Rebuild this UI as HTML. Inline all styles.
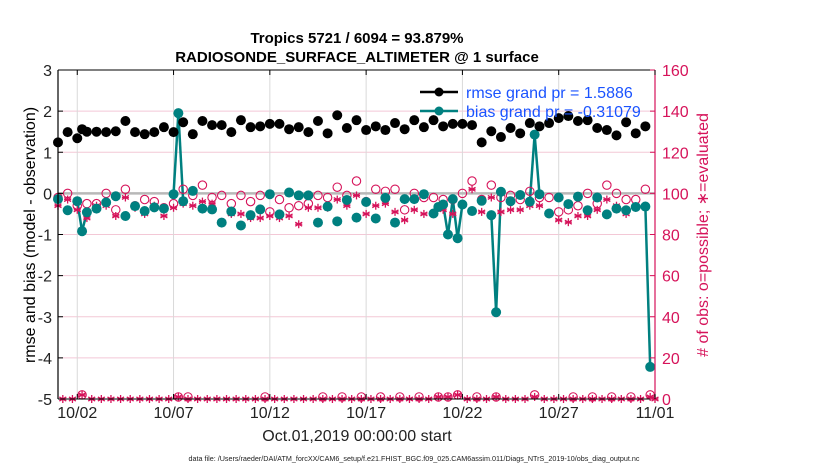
<!DOCTYPE html>
<html><head><meta charset="utf-8"><style>
html,body{margin:0;padding:0;background:#fff;}
svg{display:block;font-family:"Liberation Sans",Arial,sans-serif;}
</style></head><body>
<svg id="chart" width="830" height="470" viewBox="0 0 830 470" xmlns="http://www.w3.org/2000/svg">
<rect width="830" height="470" fill="#fff"/>
<g id="grid"></g><g id="marks"></g><g id="axes"></g>
<text x="357" y="43" text-anchor="middle" font-size="15" font-weight="bold">Tropics 5721 / 6094 = 93.879%</text>
<text x="357" y="62" text-anchor="middle" font-size="15" font-weight="bold">RADIOSONDE_SURFACE_ALTIMETER @ 1 surface</text>
<text transform="translate(35,235) rotate(-90)" text-anchor="middle" font-size="16">rmse and bias (model - observation)</text>
<text transform="translate(708,235) rotate(-90)" text-anchor="middle" font-size="16" fill="#d6135a"># of obs: o=possible; ∗=evaluated</text>
<text x="357" y="441" text-anchor="middle" font-size="16" fill="#222">Oct.01,2019 00:00:00 start</text>
<text x="414" y="461" text-anchor="middle" font-size="7.2" fill="#222">data file: /Users/raeder/DAI/ATM_forcXX/CAM6_setup/f.e21.FHIST_BGC.f09_025.CAM6assim.011/Diags_NTrS_2019-10/obs_diag_output.nc</text>
<g>
<line x1="420" y1="92" x2="458" y2="92" stroke="#000" stroke-width="2.5"/><circle cx="439" cy="92" r="4.5" fill="#000"/>
<text x="466" y="98" font-size="16" fill="#1a53ff">rmse grand pr = 1.5886</text>
<line x1="420" y1="111" x2="458" y2="111" stroke="#008080" stroke-width="2.5"/><circle cx="439" cy="111" r="4.5" fill="#008080"/>
<text x="466" y="117" font-size="16" fill="#1a53ff">bias grand pr = -0.31079</text>
</g>
</svg>
<script>
// 12-hourly values (00Z/12Z), index i -> day i*0.5
const rmse=[1.24,1.49,1.34,1.50,1.50,1.49,1.51,1.76,1.49,1.44,1.49,1.61,1.49,1.73,1.44,1.76,1.66,1.66,1.49,1.78,1.61,1.63,1.69,1.69,1.56,1.61,1.49,1.76,1.46,1.90,1.59,1.78,1.54,1.63,1.54,1.71,1.56,1.78,1.61,1.78,1.63,1.69,1.69,1.66,1.24,1.51,1.37,1.59,1.46,1.71,1.63,1.71,1.83,1.88,1.76,1.78,1.59,1.54,1.41,1.73,1.46,1.63,null];
const bias=[-0.14,-0.41,-0.19,-0.46,-0.37,-0.22,-0.07,-0.55,-0.31,-0.43,-0.34,-0.37,-0.02,-0.19,0.06,-0.37,-0.39,-0.71,-0.44,-0.78,-0.53,-0.39,-0.02,-0.51,0.02,-0.05,-0.05,-0.71,-0.32,-0.68,-0.16,-0.59,-0.21,-0.61,-0.11,-0.71,-0.14,-0.14,-0.02,-0.49,-0.27,-0.14,-0.27,-0.43,-0.18,-0.53,0.04,-0.19,-0.04,-0.2,-0.02,-0.49,-0.1,-0.26,-0.08,-0.41,-0.10,-0.51,-0.37,-0.41,-0.33,-0.32,null];
const possible=[98,100,94,95,95,100,92,102,94,97,96,93,95,102,99,104,98,99,95,99,96,99,91,97,93,94,95,99,98,103,99,106,96,102,101,102,92,100,98,98,97,97,100,106,97,104,98,99,97,101,98,98,91,92,94,100,95,104,100,97,97,102,0];
const evaluated=[94,97,92,88,94,94,89,98,93,90,94,89,93,95,94,96,95,86,90,90,88,88,89,88,89,85,93,93,93,97,94,99,90,94,95,91,87,92,90,90,92,90,95,102,91,98,91,92,92,94,94,90,87,86,89,89,92,97,94,90,93,94,0];
// 06Z/18Z values, index k -> day 0.25+k*0.5
const offPossible=[0,0,2,0,0,0,0,0,0,0,0,0,1,1,0,0,0,0,0,0,0,1,0,0,0,0,0,1,0,1,0,1,0,1,0,1,0,1,0,1,1,2,0,1,0,1,0,0,0,2,0,0,0,1,0,1,0,1,0,1,0,2];
const offEvaluated=[0,0,2,0,0,0,0,0,0,0,0,0,1,0,0,0,0,0,0,0,0,0,0,0,0,0,0,0,0,0,0,0,0,0,0,0,0,0,0,1,1,2,0,0,0,1,0,0,0,1,0,0,0,0,0,0,0,0,0,0,0,1];
const offBias={2:-0.92,12:1.95,39:-0.33,40:-1.0,41:-1.09,45:-2.89,49:1.43,61:-4.22};
const offRmse={2:1.56};
const yTicks=[-5,-4,-3,-2,-1,0,1,2,3];
const y2Ticks=[0,20,40,60,80,100,120,140,160];
const xTickDays=[1,6,11,16,21,26,31];
const xTickLabels=["10/02","10/07","10/12","10/17","10/22","10/27","11/01"];

const NS="http://www.w3.org/2000/svg";
const X0=58,X1=655,Y0=70,Y1=399,D0=0,D1=31,V0=-5,V1=3,C0=0,C1=160;
const CR="#d6135a",TEAL="#008080";
function xs(d){return X0+(d-D0)/(D1-D0)*(X1-X0);}
function ys(v){return Y1-(v-V0)/(V1-V0)*(Y1-Y0);}
function yc(c){return Y1-(c-C0)/(C1-C0)*(Y1-Y0);}
function mk(tag,at,parent){const e=document.createElementNS(NS,tag);for(const k in at)e.setAttribute(k,at[k]);parent.appendChild(e);return e;}
const gridG=document.getElementById('grid'),marksG=document.getElementById('marks'),axesG=document.getElementById('axes');

yTicks.forEach(v=>{if(v===0)return;const l=mk('line',{x1:X0,x2:X1,y1:ys(v),y2:ys(v),stroke:'#f3c8d6','stroke-width':1},gridG);

});
xTickDays.forEach(d=>{const l=mk('line',{x1:xs(d),x2:xs(d),y1:Y0,y2:Y1,stroke:'#d9d9d9','stroke-width':1},gridG);

});
const zeroLine=mk('line',{x1:X0,x2:X1,y1:ys(0),y2:ys(0),stroke:'#b8b8b8','stroke-width':2.5},gridG);



const pts=[];
for(let i=0;i<bias.length;i++)pts.push({d:i*0.5,b:bias[i],r:rmse[i],p:possible[i],e:evaluated[i]});
for(let k=0;k<offPossible.length;k++)pts.push({d:0.25+k*0.5,b:(k in offBias)?offBias[k]:null,r:(k in offRmse)?offRmse[k]:null,p:offPossible[k],e:offEvaluated[k]});
pts.sort((a,b)=>a.d-b.d);

for(let j=1;j<pts.length;j++){const a=pts[j-1],b=pts[j];if(a.b!==null&&b.b!==null){
const l=mk('line',{x1:xs(a.d),y1:ys(a.b),x2:xs(b.d),y2:ys(b.b),stroke:TEAL,'stroke-width':2.5},marksG);

}}
function star(cx,cy,parent){const g=mk('g',{stroke:CR,'stroke-width':1.3},parent);
for(let a=0;a<3;a++){const t=a*Math.PI/3+Math.PI/2;mk('line',{x1:cx-4*Math.cos(t),y1:cy-4*Math.sin(t),x2:cx+4*Math.cos(t),y2:cy+4*Math.sin(t)},g);}
mk('line',{x1:cx-3.5,y1:cy,x2:cx+3.5,y2:cy},g);return g;}
pts.forEach(p=>{
 if(p.p>0){
 const c=mk('circle',{cx:xs(p.d),cy:yc(p.p),r:4.2,fill:'none',stroke:CR,'stroke-width':1.1},marksG);
 
 
 }
 const s=star(xs(p.d),yc(p.e),marksG);
 
 
});
pts.forEach(p=>{if(p.b!==null){const c=mk('circle',{cx:xs(p.d),cy:ys(p.b),r:5,fill:TEAL},marksG);
 
 }});
pts.forEach(p=>{if(p.r!==null){const c=mk('circle',{cx:xs(p.d),cy:ys(p.r),r:5,fill:'#000'},marksG);
 
 }});

const topAxis=mk('line',{x1:X0,x2:X1,y1:Y0,y2:Y0,stroke:'#000','stroke-width':1},axesG);


const botAxis=mk('line',{x1:X0,x2:X1,y1:Y1,y2:Y1,stroke:'#000','stroke-width':1},axesG);


const leftAxis=mk('line',{x1:X0,x2:X0,y1:Y0,y2:Y1,stroke:'#000','stroke-width':1.2},axesG);


const rightAxis=mk('line',{x1:X1,x2:X1,y1:Y0,y2:Y1,stroke:CR,'stroke-width':1.2},axesG);


yTicks.forEach(v=>{mk('line',{x1:X0,x2:X0+5,y1:ys(v),y2:ys(v),stroke:'#000'},axesG);
 const t=mk('text',{x:X0-6,y:ys(v)+6,'text-anchor':'end','font-size':16,fill:'#222'},axesG);t.textContent=v;
 
 });
y2Ticks.forEach(c=>{mk('line',{x1:X1-5,x2:X1,y1:yc(c),y2:yc(c),stroke:CR},axesG);
 const t=mk('text',{x:X1+7,y:yc(c)+6,'font-size':16,fill:CR},axesG);t.textContent=c;
 
 });
xTickDays.forEach((d,i)=>{mk('line',{x1:xs(d),x2:xs(d),y1:Y1,y2:Y1-5,stroke:'#000'},axesG);mk('line',{x1:xs(d),x2:xs(d),y1:Y0,y2:Y0+5,stroke:'#000'},axesG);
 const t=mk('text',{x:xs(d),y:Y1+19,'text-anchor':'middle','font-size':16,fill:'#222'},axesG);t.textContent=xTickLabels[i];
 
 });
</script>
</body></html>
